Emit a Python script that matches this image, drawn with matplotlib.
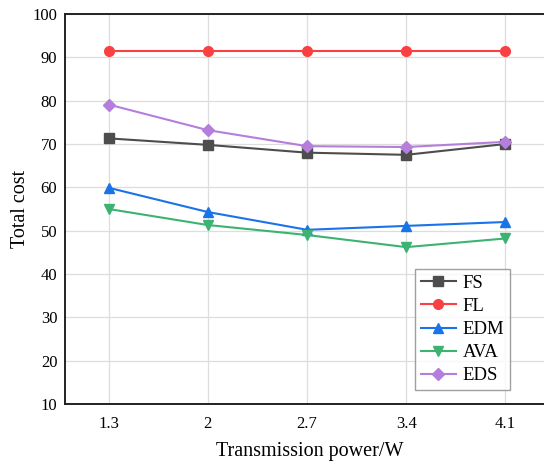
import matplotlib
matplotlib.use("Agg")
import matplotlib.pyplot as plt

categories = ["1.3", "2", "2.7", "3.4", "4.1"]
fs = [71.3, 69.8, 68.0, 67.5, 70.0]
fl = [91.5, 91.5, 91.5, 91.5, 91.5]
edm = [59.9, 54.3, 50.2, 51.1, 52.0]
ava = [55.0, 51.3, 49.0, 46.2, 48.2]
eds = [79.1, 73.2, 69.5, 69.3, 70.5]
yticks = [10, 20, 30, 40, 50, 60, 70, 80, 90, 100]

plt.rcParams['font.family'] = ['Liberation Serif', 'DejaVu Serif']

fig = plt.figure(figsize=(5.44, 4.63), dpi=100)
ax = fig.add_axes([65/544, 1-404/463, 490/544, 390/463])
x = list(range(len(categories)))

series = [
    ("FS", fs, "#4d4d4d", "s"),
    ("FL", fl, "#f94144", "o"),
    ("EDM", edm, "#1a73e8", "^"),
    ("AVA", ava, "#3cb371", "v"),
    ("EDS", eds, "#b57edc", "D"),
]
for name, vals, c, m in series:
    ax.plot(x, vals, color=c, marker=m, markersize=7 if m != "D" else 6,
            linewidth=1.5, label=name, zorder=3)

ax.set_xlim(-0.44, 4.5)
ax.set_ylim(10, 100)
ax.set_xticks(x)
ax.set_xticklabels(categories, fontsize=12)
ax.set_yticks(yticks)
ax.set_yticklabels([str(v) for v in yticks], fontsize=12)
ax.tick_params(axis="y", length=0, pad=5.5)
ax.tick_params(axis="x", length=0, pad=9)
ax.grid(True, color="#dddddd", linewidth=0.9)
ax.set_axisbelow(True)
for s in ["left", "bottom", "top"]:
    ax.spines[s].set_color("#222222")
    ax.spines[s].set_linewidth(1.4)
ax.spines["right"].set_visible(False)

ax.set_xlabel("Transmission power/W", fontsize=14.5, labelpad=7)
ax.set_ylabel("Total cost", fontsize=14.5, labelpad=2)

leg = ax.legend(loc="lower left", bbox_to_anchor=((415-65)/490, (404-390)/390),
                fontsize=13.5, fancybox=False, edgecolor="#888888",
                borderaxespad=0, handlelength=1.9, labelspacing=0.32,
                borderpad=0.3, handletextpad=0.35)
leg.get_frame().set_linewidth(1.0)

fig.savefig("out.png", dpi=100)
